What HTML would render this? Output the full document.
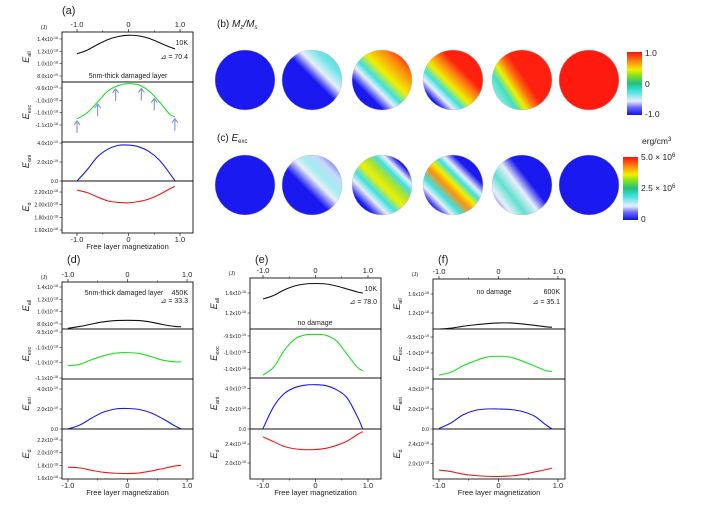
<!DOCTYPE html>
<html><head><meta charset="utf-8"><style>
body{margin:0;background:#fff}
svg{display:block;font-family:"Liberation Sans",sans-serif}
</style></head><body>
<svg id="fig" width="701" height="506" viewBox="0 0 701 506">
<defs>
<linearGradient id="jet" x1="0" y1="1" x2="0" y2="0">
<stop offset="0" stop-color="#1010f0"/><stop offset="0.12" stop-color="#6a6af6"/><stop offset="0.22" stop-color="#e8eefc"/><stop offset="0.38" stop-color="#40e0e0"/><stop offset="0.5" stop-color="#20c080"/><stop offset="0.62" stop-color="#80e020"/><stop offset="0.72" stop-color="#f0f000"/><stop offset="0.86" stop-color="#ff8010"/><stop offset="1" stop-color="#ff1010"/></linearGradient>
<linearGradient id="b2" x1="0.1" y1="0.9" x2="0.9" y2="0.1"><stop offset="0.52" stop-color="#1a1af0"/><stop offset="0.68" stop-color="#e8eefc"/><stop offset="0.85" stop-color="#70e4e8"/><stop offset="1" stop-color="#50dcd8"/></linearGradient>
<linearGradient id="b3" x1="0.1" y1="0.9" x2="0.9" y2="0.1"><stop offset="0.2" stop-color="#1a1af0"/><stop offset="0.35" stop-color="#e8eefc"/><stop offset="0.45" stop-color="#40e0e0"/><stop offset="0.6" stop-color="#f0f000"/><stop offset="0.85" stop-color="#ff8010"/><stop offset="1" stop-color="#ff2010"/></linearGradient>
<linearGradient id="b4" x1="0.1" y1="0.9" x2="0.9" y2="0.1"><stop offset="0.08" stop-color="#1a1af0"/><stop offset="0.2" stop-color="#e8eefc"/><stop offset="0.3" stop-color="#40e0e0"/><stop offset="0.42" stop-color="#f0f000"/><stop offset="0.58" stop-color="#ff8010"/><stop offset="0.7" stop-color="#ff2010"/></linearGradient>
<linearGradient id="b5" x1="0.05" y1="0.8" x2="0.95" y2="0.2"><stop offset="0" stop-color="#a0e8f0"/><stop offset="0.18" stop-color="#40e0c0"/><stop offset="0.3" stop-color="#f0f000"/><stop offset="0.45" stop-color="#ff6010"/><stop offset="0.55" stop-color="#ff2010"/></linearGradient>
<linearGradient id="c2" x1="0.1" y1="0.9" x2="0.9" y2="0.1"><stop offset="0.4" stop-color="#1a1af0"/><stop offset="0.58" stop-color="#e8eefc"/><stop offset="0.7" stop-color="#a0eef0"/><stop offset="0.85" stop-color="#c8d8fa"/><stop offset="1" stop-color="#6a6af6"/></linearGradient>
<linearGradient id="c3" x1="0.1" y1="0.9" x2="0.9" y2="0.1"><stop offset="0.1" stop-color="#1a1af0"/><stop offset="0.25" stop-color="#e8eefc"/><stop offset="0.36" stop-color="#40e0e0"/><stop offset="0.5" stop-color="#f0f000"/><stop offset="0.64" stop-color="#a0e040"/><stop offset="0.73" stop-color="#40e0e0"/><stop offset="0.82" stop-color="#e8eefc"/><stop offset="0.92" stop-color="#1a1af0"/></linearGradient>
<linearGradient id="c4" x1="0.1" y1="0.9" x2="0.9" y2="0.1"><stop offset="0.06" stop-color="#1a1af0"/><stop offset="0.18" stop-color="#e8eefc"/><stop offset="0.28" stop-color="#40e0e0"/><stop offset="0.42" stop-color="#ff9010"/><stop offset="0.52" stop-color="#f0f000"/><stop offset="0.62" stop-color="#40e0e0"/><stop offset="0.7" stop-color="#e8eefc"/><stop offset="0.82" stop-color="#1a1af0"/></linearGradient>
<linearGradient id="c5" x1="0.05" y1="0.85" x2="0.95" y2="0.15"><stop offset="0" stop-color="#6a6af6"/><stop offset="0.12" stop-color="#e8eefc"/><stop offset="0.28" stop-color="#60e0d0"/><stop offset="0.45" stop-color="#e8eefc"/><stop offset="0.62" stop-color="#1a1af0"/></linearGradient>
</defs>
<g id="plots"></g>
<g id="maps"></g>
</svg>
<script>
// ---- data ----
const magnetization=[-1,-0.8,-0.6,-0.4,-0.2,0,0.2,0.4,0.6,0.8,0.9];
const aEall=[1.16,1.22,1.31,1.39,1.44,1.46,1.45,1.41,1.34,1.27,1.24];
const aEexc=[-1.06,-1.04,-1.005,-0.97,-0.952,-0.946,-0.95,-0.97,-1.005,-1.045,-1.053];
const aEani=[0,1.2,2.56,3.35,3.75,3.78,3.6,3.1,2.2,0.8,0.05];
const aEd=[2.23,2.19,2.12,2.06,2.035,2.03,2.05,2.09,2.16,2.25,2.29];
const dEall=[0.73,0.76,0.80,0.835,0.855,0.86,0.855,0.83,0.79,0.76,0.755];
const dEexc=[-1.06,-1.055,-1.04,-1.027,-1.019,-1.017,-1.02,-1.03,-1.042,-1.047,-1.047];
const dEani=[0,0.4,1.1,1.7,2.0,2.05,1.95,1.6,1.0,0.3,0.0];
const dEd=[1.77,1.76,1.72,1.69,1.675,1.67,1.68,1.71,1.75,1.79,1.80];
const eEall=[1.48,1.55,1.66,1.74,1.78,1.79,1.78,1.74,1.68,1.62,1.60];
const eEexc=[-1.068,-1.045,-0.995,-0.96,-0.947,-0.945,-0.948,-0.965,-1.005,-1.045,-1.055];
const eEani=[0.05,2.2,3.5,4.1,4.35,4.4,4.3,3.9,3.1,1.2,0.0];
const eEd=[2.55,2.45,2.35,2.3,2.28,2.285,2.31,2.37,2.46,2.6,2.66];
const fEall=[0.86,0.88,0.92,0.95,0.975,0.99,0.99,0.97,0.94,0.91,0.90];
const fEexc=[-1.069,-1.06,-1.04,-1.025,-1.013,-1.01,-1.013,-1.025,-1.04,-1.055,-1.057];
const fEani=[0.05,0.6,1.4,1.85,2.0,2.0,1.95,1.75,1.3,0.4,0.0];
const fEd=[1.87,1.84,1.79,1.76,1.745,1.74,1.75,1.78,1.83,1.88,1.91];
const arrowM=[-1,-0.6,-0.25,0.25,0.5,0.9];
const xTicks=[-1,0,1];
const xTickLabels=['-1.0','0','1.0'];
const tAll1=[0.8,1.0,1.2,1.4], lAll1=['8.0','1.0','1.2','1.4'], eAll1=['-19','-18','-18','-18'];
const tAll2=[1.2,1.6], lAll2=['1.2','1.6'], eAll2=['-18','-18'];
const tExcA=[-0.96,-1.0,-1.04,-1.08], lExcA=['-9.6','-1.0','-1.0','-1.1'], eExcA=['-19','-18','-18','-18'];
const tExcD=[-0.95,-1.0,-1.05,-1.1], lExcD=['-9.5','-1.0','-1.0','-1.1'], eExcD=['-19','-18','-18','-18'];
const tExcE=[-0.95,-1.0,-1.05], lExcE=['-9.5','-1.0','-1.0'], eExcE=['-19','-18','-18'];
const tAni=[0,2,4], lAni=['0.0','2.0','4.0'], eAni=['','-19','-19'];
const tEdA=[1.6,1.8,2.0,2.2], lEdA=['1.60','1.80','2.00','2.20'], eEdA=['-18','-18','-18','-18'];
const tEdD=[1.6,1.8,2.0,2.2], lEdD=['1.6','1.8','2.0','2.2'], eEdD=['-18','-18','-18','-18'];
const tEdE=[2.0,2.4], lEdE=['2.0','2.4'], eEdE=['-18','-18'];

const NS='http://www.w3.org/2000/svg';
function mk(tag,attrs,parent){const e=document.createElementNS(NS,tag);for(const k in attrs)e.setAttribute(k,attrs[k]);if(parent)parent.appendChild(e);return e;}
function smooth(pts){let d='M'+pts[0][0]+','+pts[0][1];for(let i=0;i<pts.length-1;i++){const p0=pts[Math.max(0,i-1)],p1=pts[i],p2=pts[i+1],p3=pts[Math.min(pts.length-1,i+2)];
const c1=[p1[0]+(p2[0]-p0[0])/6,p1[1]+(p2[1]-p0[1])/6],c2=[p2[0]-(p3[0]-p1[0])/6,p2[1]-(p3[1]-p1[1])/6];d+=' C'+c1[0].toFixed(2)+','+c1[1].toFixed(2)+' '+c2[0].toFixed(2)+','+c2[1].toFixed(2)+' '+p2[0].toFixed(2)+','+p2[1].toFixed(2);}return d;}
const plots=document.getElementById('plots');let clipN=0;
function txt(parent,x,y,s,size,anchor,extra){const t=mk('text',Object.assign({x:x,y:y,'font-size':size,'text-anchor':anchor||'start',fill:'#222'},extra||{}),parent);t.textContent=s;return t;}
function panel(c){
 const g=mk('g',{},plots);
 
 
 const xs=m=>c.left+(m-c.xmin)/(c.xmax-c.xmin)*(c.right-c.left);
 const lt=txt(g,c.left-18,c.top-3,'(J)',5.5,'middle');
 
 const ttl=txt(g,c.left+(c.id==='a'?0:5),c.titleY,'('+c.id+')',11,'start');
 
 xTicks.forEach((v,i)=>{const x=xs(v);
  const a=txt(g,x,c.top-5,xTickLabels[i],7.5,'middle');
  const b=txt(g,x,c.bottom+9,xTickLabels[i],7.5,'middle');
  mk('line',{x1:x,x2:x,y1:c.top,y2:c.top-3,stroke:'#222','stroke-width':0.7},g);mk('line',{x1:x,x2:x,y1:c.bottom,y2:c.bottom+3,stroke:'#222','stroke-width':0.7},g);});
 [-0.5,0.5].forEach(v=>{const x=xs(v);mk('line',{x1:x,x2:x,y1:c.top,y2:c.top-1.5,stroke:'#222','stroke-width':0.6},g);mk('line',{x1:x,x2:x,y1:c.bottom,y2:c.bottom+1.5,stroke:'#222','stroke-width':0.6},g);});
 const xl=txt(g,(c.left+c.right)/2,c.bottom+16,'Free layer magnetization',7.5,'middle');
 
 c.subs.forEach(s=>{
  const ys=v=>s.y1-(v-s.vmin)/(s.vmax-s.vmin)*(s.y1-s.y0);
  const sg=mk('g',{},g);
  
  
  s.ticks.forEach((v,i)=>{const y=ys(v);
   mk('line',{x1:c.left,x2:c.left-2.5,y1:y,y2:y,stroke:'#222','stroke-width':0.6},sg);
   const t=txt(sg,c.left-4,y+2,s.labels[i]+(s.exps[i]?'x10':''),5.2,'end');
   if(s.exps[i]){const sp=mk('tspan',{dy:-2,'font-size':3.6},t);sp.textContent=s.exps[i];}
   });
  const yt=mk('text',{x:0,y:0,'font-size':9,'font-style':'italic','text-anchor':'middle',fill:'#222',transform:'translate('+(c.left-33)+','+((s.y0+s.y1)/2)+') rotate(-90)'},sg);
  yt.textContent='E';const sub=mk('tspan',{dy:2,'font-size':5.5,'font-style':'normal'},yt);sub.textContent=s.name;
  
  const id='cl'+(clipN++);const cp=mk('clipPath',{id:id},sg);mk('rect',{x:c.left,y:s.y0,width:c.right-c.left,height:s.y1-s.y0},cp);
  const pts=magnetization.map((m,i)=>[xs(m),ys(s.series[i])]);
  const p=mk('path',{d:smooth(pts),fill:'none',stroke:s.color,'stroke-width':1.1,'clip-path':'url(#'+id+')'},sg);
  
  
  if(s.arrows){s.arrows.forEach(m=>{
   let i=0;while(i<magnetization.length-2&&magnetization[i+1]<m)i++;
   const f=(m-magnetization[i])/(magnetization[i+1]-magnetization[i]);const v=s.series[i]+(s.series[i+1]-s.series[i])*f;
   const x=xs(m),y=ys(v)+2;
   const ar=mk('path',{d:'M'+x+','+(y+12)+' L'+x+','+y+' M'+(x-3)+','+(y+4)+' L'+x+','+y+' L'+(x+3)+','+(y+4),fill:'none',stroke:'#7f93d8','stroke-width':1.1},sg);
   });}
  mk('rect',{x:c.left,y:s.y0,width:c.right-c.left,height:s.y1-s.y0,fill:'none',stroke:'#111','stroke-width':0.9},sg);
 });
 c.notes.forEach(n=>{const t=txt(g,n[0],n[1],n[2],7,n[3]);});
}
panel({id:'a',left:62,right:193,top:32,bottom:233,titleY:14,xmin:-1.291,xmax:1.252,
 subs:[{name:'all',y0:32,y1:82,vmin:0.703,vmax:1.513,ticks:tAll1,labels:lAll1,exps:eAll1,series:aEall,color:'#111'},
 {name:'exc',y0:82,y1:142,vmin:-1.135,vmax:-0.9405,ticks:tExcA,labels:lExcA,exps:eExcA,series:aEexc,color:'#22dd22',arrows:arrowM},
 {name:'ani',y0:142,y1:181,vmin:0,vmax:4.105,ticks:tAni,labels:lAni,exps:eAni,series:aEani,color:'#1a1af0'},
 {name:'d',y0:181,y1:233,vmin:1.553,vmax:2.374,ticks:tEdA,labels:lEdA,exps:eEdA,series:aEd,color:'#f01a1a'}],
 notes:[[188,45,'10K','end'],[188,59,'⊿ = 70.4','end'],[128,78,'5nm-thick damaged layer','middle']]});
panel({id:'d',left:62,right:193,top:282,bottom:479,titleY:263,xmin:-1.10,xmax:1.10,
 subs:[{name:'all',y0:282,y1:329,vmin:0.719,vmax:1.481,ticks:tAll1,labels:lAll1,exps:eAll1,series:dEall,color:'#111'},
 {name:'exc',y0:329,y1:379,vmin:-1.103,vmax:-0.940,ticks:tExcD,labels:lExcD,exps:eExcD,series:dEexc,color:'#22dd22'},
 {name:'ani',y0:379,y1:429,vmin:0,vmax:5.0,ticks:tAni,labels:lAni,exps:eAni,series:dEani,color:'#1a1af0'},
 {name:'d',y0:429,y1:479,vmin:1.584,vmax:2.374,ticks:tEdD,labels:lEdD,exps:eEdD,series:dEd,color:'#f01a1a'}],
 notes:[[124,295,'5nm-thick damaged layer','middle'],[188,295,'450K','end'],[188,303,'⊿ = 33.3','end']]});
panel({id:'e',left:250,right:381,top:278,bottom:479,titleY:263,xmin:-1.248,xmax:1.248,
 subs:[{name:'all',y0:278,y1:329,vmin:0.88,vmax:1.9,ticks:tAll2,labels:lAll2,exps:eAll2,series:eEall,color:'#111'},
 {name:'exc',y0:329,y1:378,vmin:-1.077,vmax:-0.929,ticks:tExcE,labels:lExcE,exps:eExcE,series:eEexc,color:'#22dd22'},
 {name:'ani',y0:378,y1:429,vmin:0,vmax:5.06,ticks:tAni,labels:lAni,exps:eAni,series:eEani,color:'#1a1af0'},
 {name:'d',y0:429,y1:479,vmin:1.663,vmax:2.716,ticks:tEdE,labels:lEdE,exps:eEdE,series:eEd,color:'#f01a1a'}],
 notes:[[377,291,'10K','end'],[377,304,'⊿ = 78.0','end'],[315,325,'no damage','middle']]});
panel({id:'f',left:433,right:565,top:279,bottom:479,titleY:263,xmin:-1.10,xmax:1.118,
 subs:[{name:'all',y0:279,y1:329,vmin:0.863,vmax:1.916,ticks:tAll2,labels:lAll2,exps:eAll2,series:fEall,color:'#111'},
 {name:'exc',y0:329,y1:379,vmin:-1.081,vmax:-0.925,ticks:tExcE,labels:lExcE,exps:eExcE,series:fEexc,color:'#22dd22'},
 {name:'ani',y0:379,y1:429,vmin:0,vmax:5.0,ticks:tAni,labels:lAni,exps:eAni,series:fEani,color:'#1a1af0'},
 {name:'d',y0:429,y1:479,vmin:1.689,vmax:2.705,ticks:tEdE,labels:lEdE,exps:eEdE,series:fEd,color:'#f01a1a'}],
 notes:[[494,294,'no damage','middle'],[560,294,'600K','end'],[560,304,'⊿ = 35.1','end']]});

// ---- magnetization maps ----
const mapFillsB=['#1a1af0','url(#b2)','url(#b3)','url(#b4)','url(#b5)','#ff1a10'];
const mapFillsC=['#1a1af0','url(#c2)','url(#c3)','url(#c4)','url(#c5)','#1a1af0'];
const maps=document.getElementById('maps');
const cx=[245,312,382,453,522,589];
cx.forEach((x,i)=>{
 const a=mk('circle',{cx:x,cy:80,r:30,fill:mapFillsB[i],stroke:'#bbb','stroke-width':0.4},maps);
 
 const b=mk('circle',{cx:x,cy:185,r:30,fill:mapFillsC[i],stroke:'#bbb','stroke-width':0.4},maps);
 
});
const cb1=mk('rect',{x:627,y:52,width:15,height:63,fill:'url(#jet)'},maps);

const cb2=mk('rect',{x:623,y:157,width:15,height:63,fill:'url(#jet)'},maps);

[[645,56,'1.0'],[645,87,'0'],[645,117,'-1.0'],[641,160,'5.0 × 10'],[641,191,'2.5 × 10'],[641,222,'0'],[642,144,'erg/cm']].forEach(l=>{
 const t=txt(maps,l[0],l[1],l[2],8.5,'start');
 if(l[2].includes('×')){const s=mk('tspan',{dy:-3,'font-size':6},t);s.textContent='6';}
 if(l[2]==='erg/cm'){const s=mk('tspan',{dy:-3,'font-size':6},t);s.textContent='3';}
 });
const tb=txt(maps,217,27,'(b) ',10,'start');
const ib=mk('tspan',{'font-style':'italic'},tb);ib.textContent='M';const ib2=mk('tspan',{dy:2,'font-size':6,'font-style':'italic'},tb);ib2.textContent='z';
const ib3=mk('tspan',{dy:-2,'font-style':'italic'},tb);ib3.textContent='/M';const ib4=mk('tspan',{dy:2,'font-size':6,'font-style':'italic'},tb);ib4.textContent='s';

const tc=txt(maps,217,141,'(c) ',10,'start');
const ic=mk('tspan',{'font-style':'italic'},tc);ic.textContent='E';const ic2=mk('tspan',{dy:2,'font-size':6},tc);ic2.textContent='exc';

</script>
</body></html>
